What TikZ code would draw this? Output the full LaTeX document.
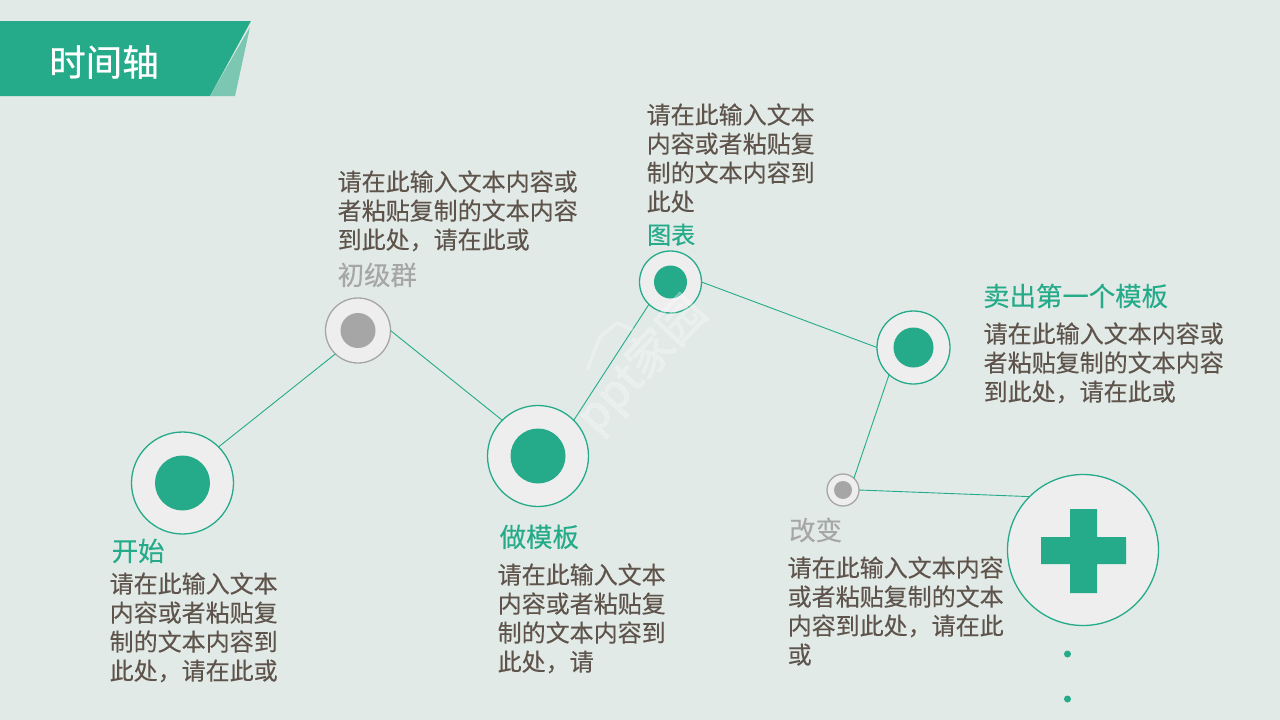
\documentclass[tikz,border=0pt]{standalone}
\usepackage{fontspec}
\setmainfont[FakeBold=0.25]{Noto Sans CJK SC}
\newfontfamily\wmfont[FakeBold=1.5]{Noto Sans CJK SC}
\newfontfamily\ttlfont[FakeBold=0.6]{Noto Sans CJK SC}
\definecolor{bgc}{HTML}{E1EAE7}
\definecolor{grn}{HTML}{26AB8A}
\definecolor{lgrn}{HTML}{7BC7B2}
\definecolor{gry}{HTML}{A6A6A6}
\definecolor{dsk}{HTML}{EEEEEE}
\definecolor{txt}{HTML}{5F544C}
\tikzset{
  disk/.style={circle,draw=grn,fill=dsk,line width=1.3pt,inner sep=0pt,outer sep=0pt},
  gdisk/.style={disk,draw=gry},
  core/.style={circle,fill=grn,inner sep=0pt,outer sep=0pt},
  gcore/.style={core,fill=gry},
  link/.style={draw=grn,line width=0.9pt},
  body/.style={anchor=north west,align=left,inner sep=0pt,text=txt,font=\fontsize{24}{29}\selectfont},
  head/.style={anchor=north west,inner sep=0pt,text=grn,font=\fontsize{26.4}{30}\selectfont},
  ghead/.style={head,text=gry},
  dot/.style={circle,fill=grn,inner sep=0pt,minimum size=7pt},
  wmtext/.style={inner sep=0pt,rotate=47,font=\wmfont\fontsize{46}{50}\selectfont}
}
\begin{document}
\begin{tikzpicture}[x=1pt,y=-1pt]
\useasboundingbox (0,0) rectangle (1280,720);
\fill[bgc] (0,0) rectangle (1280,720);
% title band
\fill[grn] (0,21) -- (251,21) -- (210,96) -- (0,96) -- cycle;
\fill[lgrn] (250,27) -- (235,96) -- (210,96) -- cycle;
\node[anchor=west,inner sep=0pt,text=white,font=\ttlfont\fontsize{36.5}{40}\selectfont] (title) at (49,62) {时间轴};
% circles
\node[disk,minimum size=102pt] (p1) at (182.5,483) {};
\node[gdisk,minimum size=65pt] (p2) at (358,330.5) {};
\node[disk,minimum size=101pt] (p3) at (538,456) {};
\node[disk,minimum size=62pt] (p4) at (670.5,282) {};
\node[disk,minimum size=73pt] (p5) at (913.5,347.5) {};
\node[gdisk,minimum size=32pt] (p6) at (843,490) {};
\node[disk,minimum size=151pt] (p7) at (1083,550) {};
\node[core,minimum size=55pt] (c1) at (p1) {};
\node[gcore,minimum size=35pt] (c2) at (p2) {};
\node[core,minimum size=55pt] (c3) at (p3) {};
\node[core,minimum size=33pt] (c4) at (p4) {};
\node[core,minimum size=40pt] (c5) at (p5) {};
\node[gcore,minimum size=18pt] (c6) at (p6) {};
% connectors
\draw[link] (p1.45) -- (p2.226);
\draw[link] (p2.east) -- (p3.135);
\draw[link] (p3.45) -- (p4.226);
\draw[link] (p4.east) -- (p5.west);
\draw[link] (p5.228) -- (p6.47);
\draw[link] (p6.east) -- (p7.135);
% plus
\fill[grn] (1070,509) -- (1097,509) -- (1097,537) -- (1126,537) -- (1126,564) -- (1097,564) -- (1097,593) -- (1070,593) -- (1070,564) -- (1041,564) -- (1041,537) -- (1070,537) -- cycle;
\node[dot] (d1) at (1067.5,654) {};
\node[dot] (d2) at (1067.5,699) {};
% labels
\node[head] (h1) at (111.5,538.5) {开始};
\node[body] (t1) at (109.5,572.2) {请在此输入文本\\内容或者粘贴复\\制的文本内容到\\此处，请在此或};
\node[ghead] (h2) at (337.5,262.5) {初级群};
\node[body] (t2) at (337.5,170.2) {请在此输入文本内容或\\者粘贴复制的文本内容\\到此处，请在此或};
\node[head] (h3) at (499.5,524.5) {做模板};
\node[body] (t3) at (497.5,563.2) {请在此输入文本\\内容或者粘贴复\\制的文本内容到\\此处，请};
\node[head,font=\fontsize{24}{28}\selectfont] (h4) at (647,223.5) {图表};
\node[body] (t4) at (646.5,103.2) {请在此输入文本\\内容或者粘贴复\\制的文本内容到\\此处};
\node[head] (h5) at (983,283.5) {卖出第一个模板};
\node[body] (t5) at (983.5,322.2) {请在此输入文本内容或\\者粘贴复制的文本内容\\到此处，请在此或};
\node[ghead] (h6) at (789,517.5) {改变};
\node[body] (t6) at (787.5,556.2) {请在此输入文本内容\\或者粘贴复制的文本\\内容到此处，请在此\\或};
% watermark
\node[wmtext,text=white,opacity=0.28] (wm1) at (642,365) {ppt家园};
\coordinate (r1) at (587,370);
\coordinate (r2) at (600,337);
\coordinate (r3) at (617,323);
\coordinate (r4) at (633,330);
\draw[white,opacity=0.28,line width=3.5pt] (r1) -- (r2) -- (r3) -- (r4);
\end{tikzpicture}
\end{document}
